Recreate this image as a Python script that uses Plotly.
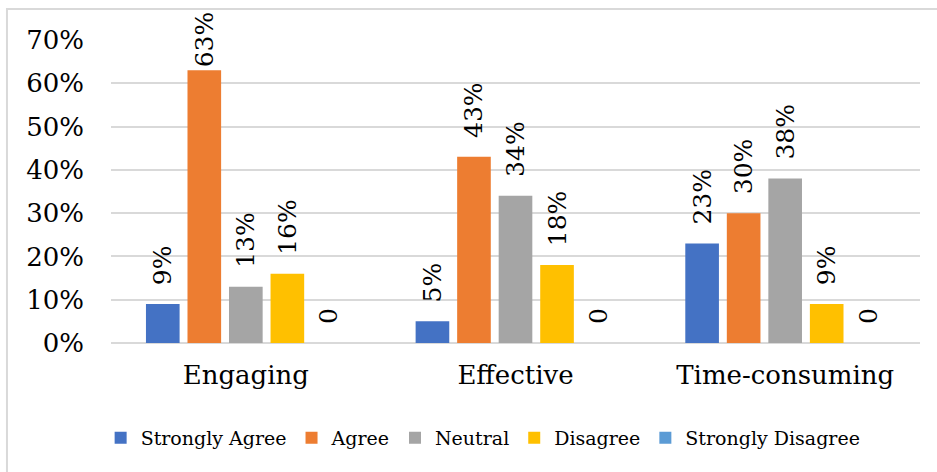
import plotly.graph_objects as go

categories = ["Engaging", "Effective", "Time-consuming"]
series_names = ["Strongly Agree", "Agree", "Neutral", "Disagree", "Strongly Disagree"]
strongly_agree = [0.09, 0.05, 0.23]
agree = [0.63, 0.43, 0.30]
neutral = [0.13, 0.34, 0.38]
disagree = [0.16, 0.18, 0.09]
strongly_disagree = [0.0, 0.0, 0.0]
colors = ["#4472C4", "#ED7D31", "#A5A5A5", "#FFC000", "#5B9BD5"]
y_ticks = [0, 0.1, 0.2, 0.3, 0.4, 0.5, 0.6, 0.7]
y_tick_labels = ["0%", "10%", "20%", "30%", "40%", "50%", "60%", "70%"]

all_series = [strongly_agree, agree, neutral, disagree, strongly_disagree]

def lab(v):
    s = "0" if v == 0 else f"{round(v*100)}%"
    # labels near the top of the axis sit closer to the bar (as in the reference)
    return s if v > 0.6 else "\u00a0\u00a0" + s

FONT = "DejaVu Serif"

fig = go.Figure()
for name, vals, col in zip(series_names, all_series, colors):
    fig.add_trace(go.Bar(
        name=name, x=categories, y=vals, marker_color=col,
        marker_line_width=0,
        text=[lab(v) for v in vals], textposition="outside", textangle=-90,
        textfont=dict(family=FONT, size=25, color="#000000"),
        constraintext="none", cliponaxis=False,
    ))

fig.update_layout(
    width=937, height=472,
    margin=dict(l=111, r=17, t=40, b=129),
    paper_bgcolor="white", plot_bgcolor="white",
    barmode="group", bargap=0.23, bargroupgap=0.19,
    font=dict(family=FONT, color="#000000", size=19),
    showlegend=True,
    legend=dict(orientation="h", x=0.46, xanchor="center", y=-0.313, yanchor="middle",
                font=dict(family=FONT, size=19, color="#000000"),
                itemwidth=30, tracegroupgap=0, bgcolor="rgba(0,0,0,0)"),
    xaxis=dict(showgrid=False, showline=False, zeroline=False,
               tickfont=dict(family=FONT, size=26, color="#000000"),
               ticks="", ticklabelstandoff=14),
    yaxis=dict(range=[0, 0.7], tickvals=y_ticks, ticktext=y_tick_labels,
               showgrid=True, gridcolor="#D9D9D9", gridwidth=2,
               zeroline=True, zerolinecolor="#D9D9D9", zerolinewidth=2,
               showline=False, ticks="",
               tickfont=dict(family=FONT, size=26, color="#000000"),
               ticklabelstandoff=26),
)

fig.add_shape(type="rect", xref="paper", yref="paper",
              x0=-0.1286, x1=1.03, y0=-0.45, y1=1.102,
              line=dict(color="#D9D9D9", width=2), fillcolor="rgba(0,0,0,0)", layer="below")

fig.write_html("out.html")
